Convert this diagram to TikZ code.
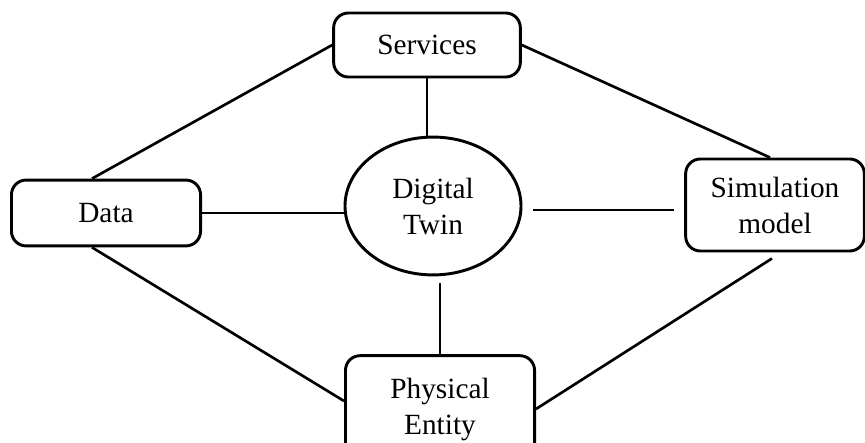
\documentclass[tikz,border=0pt]{standalone}
\usepackage{fontspec}
\setmainfont{Liberation Serif}
\usetikzlibrary{shapes,calc}

\begin{document}
\begin{tikzpicture}[x=0.375pt,y=-0.375pt,
  box/.style={draw,rounded corners=5.5pt,line width=1.1pt,align=center,inner sep=1pt,
    font=\fontsize{11}{13.5}\selectfont},
  link/.style={line width=1pt}]
\useasboundingbox (0,0) rectangle (865,443);
\node[box,minimum width=70pt,minimum height=24pt] (serv) at (427,45) {Services};
\node[box,minimum width=70.9pt,minimum height=24.7pt] (data) at (106,213) {Data};
\node[box,ellipse,minimum width=66pt,minimum height=51.7pt] (dt) at (433,206) {Digital\\Twin};
\node[box,minimum width=67pt,minimum height=34.5pt] (sim) at (775,205) {Simulation\\model};
\node[box,minimum width=70.9pt,minimum height=40pt] (phys) at (440,409) {Physical\\Entity};
% spokes from the twin
\draw[link] (serv.south) -- (serv.south |- dt.north);
\draw[link] (data.east) -- (data.east -| dt.west);
\draw[link,shorten <=4pt,shorten >=3.7pt] ($(dt.east)+(0,4)$) -- ($(sim.west)+(0,5)$);
\draw[link,shorten <=2.6pt] (phys.north |- dt.south) -- (phys.north);
% outer ring
\draw[link] (serv.west) -- ($(data.north)+(-14,0)$);
\draw[link] (serv.east) -- ($(sim.north)+(-5,0)$);
\draw[link] ($(data.south)+(-14,0)$) -- ($(phys.west)+(0,-8)$);
\draw[link] (phys.east) -- ($(sim.south)+(-3,6)$);
\end{tikzpicture}
\end{document}
